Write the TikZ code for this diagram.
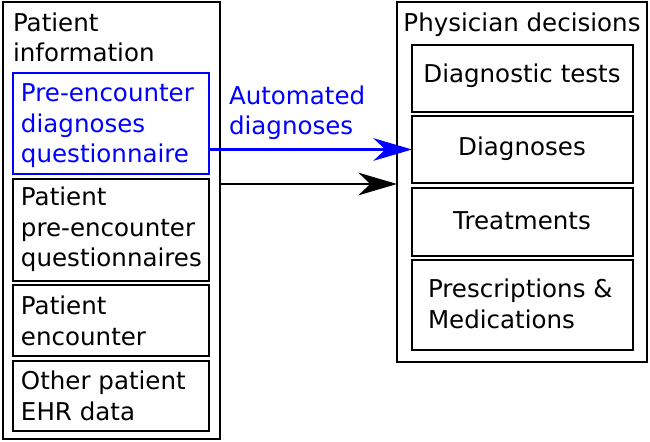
\documentclass[tikz,border=0pt]{standalone}
\usepackage{fontspec}
\setmainfont{DejaVu Sans}
\usetikzlibrary{arrows.meta}
\newcommand\mybox[6][]{\node[bx,#1,minimum width={(#4-#2)*0.75pt},minimum height={(#5-#3)*0.75pt}] (#6) at ({(#2+#4)/2},{(#3+#5)/2}) {};}
\begin{document}
\begin{tikzpicture}[x=0.75pt,y=-0.75pt,
  bx/.style={draw=black,line width=1.6pt,inner sep=0pt,outer sep=0pt,rectangle},
  blu/.style={draw=blue},
  txt/.style={inner sep=0pt,outer sep=0pt,align=left,font=\fontsize{18.4}{23.2}\selectfont},
  arr/.style={line width=1.6pt,-{Stealth[length=29pt,width=17pt,inset=9pt]}}]
\useasboundingbox (0,0) rectangle (650,442);
% left column
\mybox{3}{2}{220}{439}{lout}
\mybox[blu]{13}{73}{209}{174}{pre}
\mybox{13}{179}{209}{281}{ppq}
\mybox{13}{285}{209}{356}{enc}
\mybox{13}{361}{209}{431}{ehr}
% right column
\mybox{397}{2}{647}{362}{rout}
\mybox{412}{45}{633}{112}{dt}
\mybox{412}{116}{633}{183}{dg}
\mybox{412}{188}{633}{256}{tr}
\mybox{412}{260}{633}{350}{pm}
% texts (base anchor = baseline of the last line)
\node[txt,anchor=base west] (t1) at (13,62) {Patient\\information};
\node[txt,anchor=base west,text=blue] (t2) at (21,163) {Pre-encounter\\diagnoses\\questionnaire};
\node[txt,anchor=base west] (t3) at (21,267) {Patient\\pre-encounter\\questionnaires};
\node[txt,anchor=base west] (t4) at (21,345) {Patient\\encounter};
\node[txt,anchor=base west] (t5) at (21,420) {Other patient\\EHR data};
\node[txt,anchor=base] (t6) at (522,32) {Physician decisions};
\node[txt,anchor=base] (t7) at (522,83) {Diagnostic tests};
\node[txt,anchor=base] (t8) at (522,156) {Diagnoses};
\node[txt,anchor=base] (t9) at (522,229) {Treatments};
\node[txt,anchor=base west] (t10) at (428,328) {Prescriptions \&\\Medications};
\node[txt,anchor=base west,text=blue] (t11) at (229,135) {Automated\\diagnoses};
% arrows
\coordinate (bl) at (0,184);
\draw[arr,blue] (pre.east |- dg.west) -- (dg.west);
\draw[arr,black] (lout.east |- bl) -- (rout.west |- bl);
\end{tikzpicture}
\end{document}
